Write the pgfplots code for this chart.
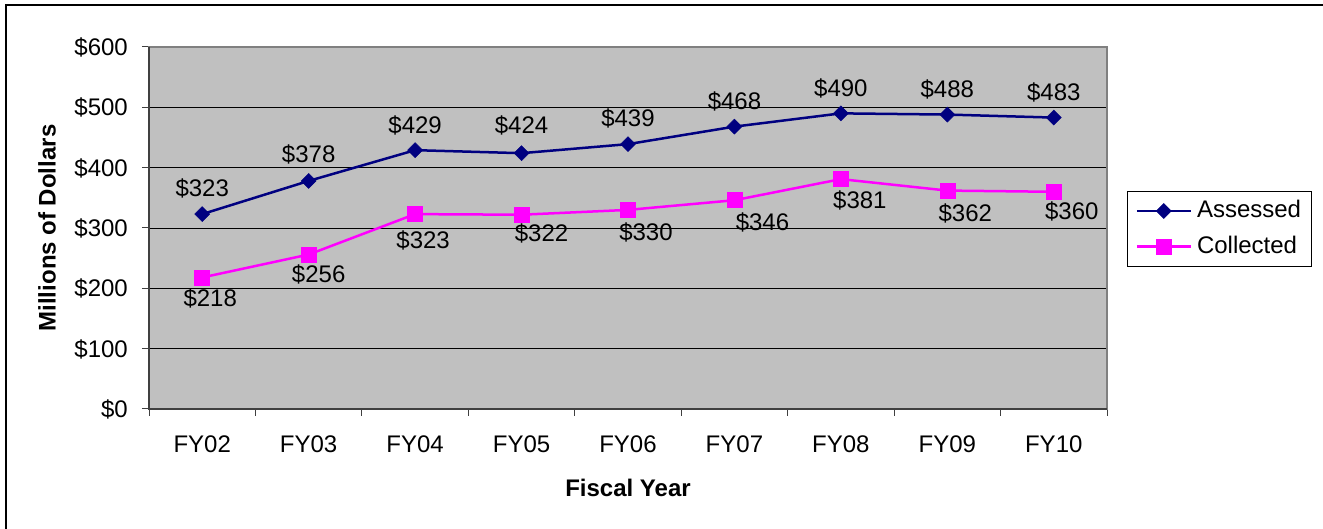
\documentclass[border=0pt]{standalone}
\usepackage{fontspec}
\setmainfont{Liberation Sans}
\usepackage{pgfplots}
\usepackage{pgfplotstable}
\pgfplotsset{compat=1.18}
\definecolor{navyc}{HTML}{000080}
\definecolor{magc}{HTML}{FF00FF}
\definecolor{bgc}{HTML}{C0C0C0}
\definecolor{bordc}{HTML}{808080}
\definecolor{axc}{HTML}{404040}

\pgfplotstableread{
x y dx dy
0.5 323 0 18
1.5 378 0 18
2.5 429 0 17
3.5 424 0 20
4.5 439 0 18
5.5 468 0 17.5
6.5 490 0 17
7.5 488 0 17
8.5 483 0 17
}\assessed

\pgfplotstableread{
x y dx dy
0.5 218 8 -29
1.5 256 10 -28
2.5 323 8 -34
3.5 322 20 -27
4.5 330 18 -31
5.5 346 28 -30
6.5 381 19 -29
7.5 362 18 -31
8.5 360 18 -28
}\collected

\begin{document}
\begin{tikzpicture}[font=\fontsize{24}{28}\selectfont]
\path[use as bounding box] (0,0) rectangle (1323pt,529pt);
\draw[line width=1.5pt] (6pt,0pt) -- (6pt,524pt) -- (1323pt,524pt);
\begin{axis}[
  at={(149pt,120pt)}, anchor=south west,
  scale only axis, width=958pt, height=362pt,
  xmin=0, xmax=9, ymin=0, ymax=600,
  xtick={0,...,9},
  xticklabels={FY02,FY03,FY04,FY05,FY06,FY07,FY08,FY09,FY10,{}},
  ytick={0,100,...,600},
  yticklabels={\$0,\$100,\$200,\$300,\$400,\$500,\$600},
  xtick pos=bottom, ytick pos=left,
  /pgf/number format/assume math mode=true,
  tick align=outside, major tick length=7pt,
  tick style={axc, line width=1pt},
  ymajorgrids, major grid style={black, line width=0.9pt},
  axis background/.style={fill=bgc},
  axis line style={bordc, line width=1.5pt},
  xticklabel style={anchor=base, inner sep=0pt, xshift=53.2pt, yshift=-36.7pt, font=\fontsize{24}{28}\selectfont},
  yticklabel style={anchor=base east, inner sep=0pt, xshift=-14pt, yshift=-8.6pt, font=\fontsize{24}{28}\selectfont},
  xlabel={Fiscal Year},
  xlabel style={at={(axis description cs:0.5,-0.2431)}, anchor=base, inner sep=0pt, font=\fontsize{24}{28}\selectfont\bfseries},
  ylabel={Millions of Dollars},
  ylabel style={at={(axis description cs:-0.1065,0.5)}, anchor=center, inner sep=0pt, font=\fontsize{24}{28}\selectfont\bfseries},
  legend style={at={(axis description cs:1.0209,0.6022)}, anchor=north west,
    draw=black, line width=1pt, fill=white, inner xsep=8pt, inner ysep=7pt,
    row sep=10.6pt, column sep=3pt,
    nodes={inner sep=2pt, text height=17pt, text depth=4pt},
    font=\fontsize{24}{28}\selectfont},
  legend cell align=left,
  legend image code/.code={\draw[mark repeat=2,mark phase=2] plot coordinates {(0pt,0pt) (27pt,0pt) (54pt,0pt)};},
  clip=false,
]
\addplot[navyc, line width=2.5pt, mark=square*, mark size=5.3pt,
  mark options={rotate=45, fill=navyc, draw=navyc, line width=0.5pt},
  nodes near coords={\$\pgfmathprintnumber{\pgfplotspointmeta}},
  point meta=explicit,
  visualization depends on={\thisrow{dx} \as \dx},
  visualization depends on={\thisrow{dy} \as \dy},
  every node near coord/.append style={text=black, anchor=base, inner sep=0pt, xshift=\dx pt, yshift=\dy pt, font=\fontsize{24}{28}\selectfont}]
  table[x=x, y=y, meta=y] {\assessed};
\addlegendentry{Assessed}
\addplot[magc, line width=2.5pt, mark=square*, mark size=7.5pt,
  mark options={fill=magc, draw=magc, line width=0.5pt},
  nodes near coords={\$\pgfmathprintnumber{\pgfplotspointmeta}},
  point meta=explicit,
  visualization depends on={\thisrow{dx} \as \dx},
  visualization depends on={\thisrow{dy} \as \dy},
  every node near coord/.append style={text=black, anchor=base, inner sep=0pt, xshift=\dx pt, yshift=\dy pt, font=\fontsize{24}{28}\selectfont}]
  table[x=x, y=y, meta=y] {\collected};
\addlegendentry{Collected}
\draw[axc, line width=1.5pt] (rel axis cs:0,1) -- (rel axis cs:0,0) -- (rel axis cs:1,0);
\end{axis}
\end{tikzpicture}
\end{document}
